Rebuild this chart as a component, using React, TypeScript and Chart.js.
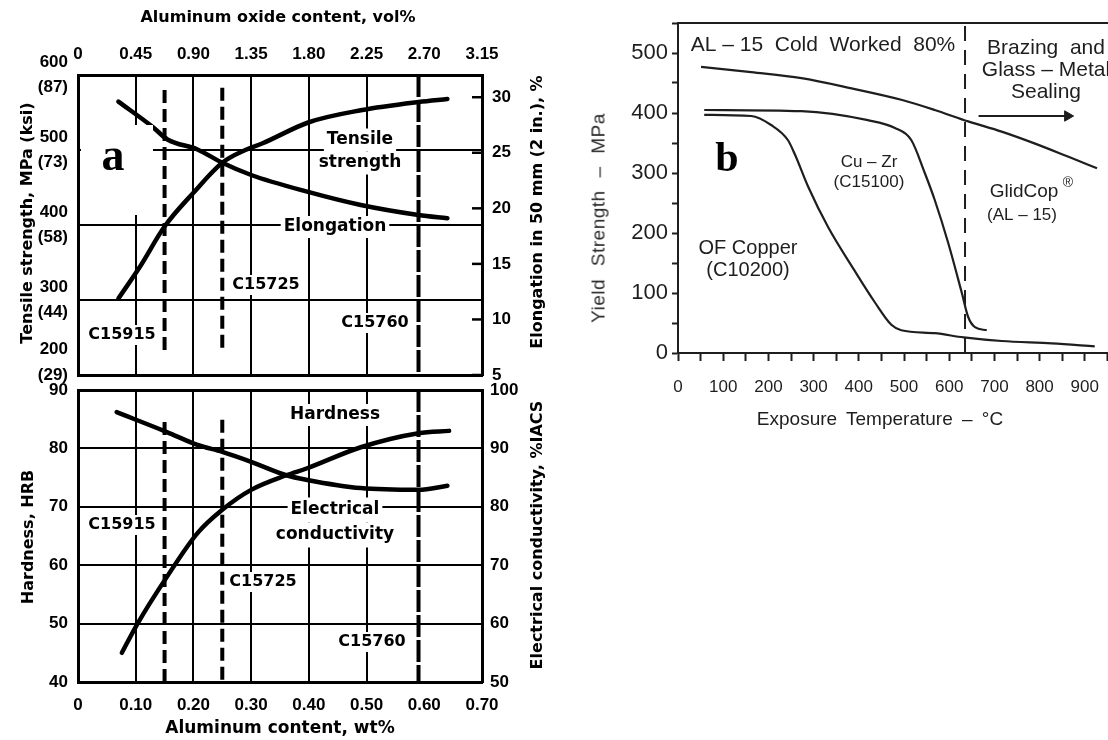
import React, { useEffect, useRef } from 'react';
import { Chart, registerables } from 'chart.js';

Chart.register(...registerables);

// ===== Panel a (upper): tensile strength (MPa) and elongation (%) vs Al content (wt%) =====
const wtTensile = [0.07, 0.107, 0.15, 0.2, 0.25, 0.29, 0.32, 0.4, 0.49, 0.59, 0.64];
const tensileMPa = [302, 344, 398, 443, 483, 500, 509, 537, 553, 564, 568];
const wtElong = [0.07, 0.13, 0.155, 0.207, 0.25, 0.3, 0.397, 0.49, 0.59, 0.64];
const elongPct = [29.6, 27.3, 26.2, 25.3, 24.1, 23.0, 21.5, 20.3, 19.4, 19.1];

// ===== Panel a (lower): hardness (HRB) and electrical conductivity (%IACS) =====
const wtHard = [0.067, 0.154, 0.207, 0.25, 0.3, 0.361, 0.397, 0.49, 0.59, 0.64];
const hardHRB = [86.2, 82.8, 80.6, 79.4, 77.7, 75.4, 74.6, 73.2, 72.9, 73.6];
const wtCond = [0.076, 0.102, 0.154, 0.207, 0.25, 0.3, 0.361, 0.397, 0.49, 0.59, 0.643];
const condIACS = [55.0, 59.8, 68.0, 75.5, 79.5, 82.9, 85.4, 86.6, 90.2, 92.6, 93.0];

// ===== Alloy markers (dashed verticals) =====
const alloyNames = ['C15915', 'C15725', 'C15760'];
const alloyWt = [0.15, 0.25, 0.59];
const alloyTopMPa = [580, 583, 600];
const alloyBottomMPa = [233, 233, 200];
const alloyTopHRB = [84.5, 84.9, 90];
const alloyBottomHRB = [40, 40, 40];

// ===== Tick labels, panel a =====
const wtTicks = [0, 0.1, 0.2, 0.3, 0.4, 0.5, 0.6, 0.7];
const volTicks = [0, 0.45, 0.9, 1.35, 1.8, 2.25, 2.7, 3.15];
const mpaTicks = [200, 300, 400, 500, 600];
const ksiTicks = [29, 44, 58, 73, 87];
const elongTicks = [5, 10, 15, 20, 25, 30];
const hrbTicks = [40, 50, 60, 70, 80, 90];
const iacsTicks = [50, 60, 70, 80, 90, 100];

// ===== Panel b: yield strength (MPa) vs exposure temperature (°C) =====
const tempGlid = [51, 162, 273, 384, 494, 568, 642, 716, 790, 864, 927];
const ysGlid = [477, 468, 458, 441, 422, 405, 386, 369, 349, 327, 308];
const tempCuZr = [58, 273, 420, 480, 516, 546, 568, 598, 628, 642, 657, 683];
const ysCuZr = [405, 403, 388, 375, 355, 300, 255, 183, 100, 60, 43, 38];
const tempOF = [58, 162, 206, 243, 258, 288, 332, 390, 435, 472, 494, 568, 632, 716, 827, 922];
const ysOF = [397, 395, 380, 355, 332, 277, 210, 138, 85, 47, 38, 33, 26, 20, 16, 11];
const brazingLimitC = [635, 635];
const brazingLimitMPa = [0, 550];
const arrowC = [665, 862];
const arrowMPa = [395, 395];
const tempTicks = [0, 50, 100, 150, 200, 250, 300, 350, 400, 450, 500, 550, 600, 650, 700, 750, 800, 850, 900, 950];
const ysTicks = [0, 50, 100, 150, 200, 250, 300, 350, 400, 450, 500, 550];

const NARROW = '"Liberation Sans Narrow", "Liberation Sans", Arial, sans-serif';
const SANS = '"Liberation Sans", Arial, Helvetica, sans-serif';
const HEAVY = '"DejaVu Sans", "Liberation Sans", sans-serif';
const SERIF = '"Liberation Serif", "Times New Roman", serif';

const near = (a: number, b: number) => Math.abs(a - b) < 1e-6;
const pts = (xs: number[], ys: number[]) => xs.map((x, i) => ({ x, y: ys[i] }));
const fixTicks = (vals: number[]) => (s: any) => {
  s.ticks = vals.map((v) => ({ value: v }));
};
const fmt2 = (v: any) => (Number(v) === 0 ? '0' : Number(v).toFixed(2));
// force exact box sizes and drop label overflow padding so the plot areas land where intended
const fitW = (w: number) => (s: any) => {
  s.width = w;
  s.paddingTop = 0; s.paddingBottom = 0; s.paddingLeft = 0; s.paddingRight = 0;
};
const fitH = (h: number) => (s: any) => {
  s.height = h;
  s.paddingTop = 0; s.paddingBottom = 0; s.paddingLeft = 0; s.paddingRight = 0;
};

type Note = { lines: string[]; x: number; y: number; font: string; lh?: number; box?: boolean; color?: string };
type Cover = { x: number; y: number; w: number; h: number };

function notesPlugin(id: string, notes: Note[], ox: number, oy: number, covers: Cover[] = []) {
  const lineY = (n: Note, i: number) => n.y - oy + (i - (n.lines.length - 1) / 2) * (n.lh || 20);
  return {
    id,
    beforeDatasetsDraw(chart: any) {
      const ctx = chart.ctx as CanvasRenderingContext2D;
      ctx.save();
      ctx.fillStyle = '#fff';
      for (const n of notes) {
        if (!n.box) continue;
        ctx.font = n.font;
        n.lines.forEach((t, i) => {
          const w = ctx.measureText(t).width;
          const lh = n.lh || 20;
          ctx.fillRect(n.x - ox - w / 2 - 3, lineY(n, i) - lh / 2, w + 6, lh);
        });
      }
      ctx.restore();
    },
    afterDatasetsDraw(chart: any) {
      const ctx = chart.ctx as CanvasRenderingContext2D;
      ctx.save();
      ctx.fillStyle = '#fff';
      covers.forEach((c) => ctx.fillRect(c.x - ox, c.y - oy, c.w, c.h));
      ctx.textAlign = 'center';
      ctx.textBaseline = 'middle';
      for (const n of notes) {
        ctx.font = n.font;
        ctx.fillStyle = n.color || '#000';
        n.lines.forEach((t, i) => ctx.fillText(t, n.x - ox, lineY(n, i)));
      }
      ctx.restore();
    },
  };
}

const inwardTicks = {
  id: 'inwardTicks',
  afterDraw(chart: any) {
    const s = chart.scales.yR;
    const { right } = chart.chartArea;
    const ctx = chart.ctx as CanvasRenderingContext2D;
    ctx.save();
    ctx.strokeStyle = '#000';
    ctx.lineWidth = 2.5;
    elongTicks.forEach((v) => {
      const y = s.getPixelForValue(v);
      ctx.beginPath();
      ctx.moveTo(right - 10, y);
      ctx.lineTo(right, y);
      ctx.stroke();
    });
    ctx.restore();
  },
};

const tickFont = { family: NARROW, size: 17, weight: 'bold' as const };
const noteFont = `bold 17px ${HEAVY}`;
const codeFont = `bold 16px ${HEAVY}`;
const gridX = (ctx: any) => {
  const v = ctx.tick ? ctx.tick.value : null;
  return v == null || near(v, 0) || near(v, 0.6) || near(v, 0.7) ? 'rgba(0,0,0,0)' : '#000';
};
const gridY = (lo: number, hi: number) => (ctx: any) => {
  const v = ctx.tick ? ctx.tick.value : null;
  return v == null || near(v, lo) || near(v, hi) ? 'rgba(0,0,0,0)' : '#000';
};

const curve = (data: any[], yAxisID: string) => ({
  data,
  xAxisID: 'x',
  yAxisID,
  borderColor: '#000',
  borderWidth: 4.5,
  pointRadius: 0,
  borderCapStyle: 'round',
  cubicInterpolationMode: 'monotone',
});
const alloyLine = (i: number, tops: number[], bottoms: number[]) => ({
  data: [
    { x: alloyWt[i], y: tops[i] },
    { x: alloyWt[i], y: bottoms[i] },
  ],
  xAxisID: 'x',
  yAxisID: 'y',
  borderColor: '#000',
  borderWidth: 4,
  borderDash: i === 2 ? [22, 3] : [13, 6],
  pointRadius: 0,
});

const baseOpts = {
  responsive: false,
  animation: false,
  devicePixelRatio: 1,
  layout: { padding: 0, autoPadding: false },
  plugins: { legend: { display: false }, tooltip: { enabled: false } },
};

const notesA1: Note[] = [
  { lines: ['Tensile', 'strength'], x: 360, y: 151.5, lh: 23, font: noteFont, box: true },
  { lines: ['Elongation'], x: 335, y: 227, lh: 22, font: noteFont, box: true },
  { lines: [alloyNames[1]], x: 266, y: 285, lh: 20, font: codeFont, box: true },
  { lines: [alloyNames[2]], x: 375, y: 323, lh: 20, font: codeFont, box: true },
  { lines: [alloyNames[0]], x: 122, y: 335, lh: 20, font: codeFont, box: true },
  { lines: ['a'], x: 113, y: 158, font: `bold 46px ${SERIF}` },
];
const notesA2: Note[] = [
  { lines: ['Hardness'], x: 335, y: 415, lh: 22, font: noteFont, box: true },
  { lines: ['Electrical', 'conductivity'], x: 335, y: 522.5, lh: 25, font: noteFont, box: true },
  { lines: [alloyNames[0]], x: 122, y: 525, lh: 20, font: codeFont, box: true },
  { lines: [alloyNames[1]], x: 263, y: 582, lh: 20, font: codeFont, box: true },
  { lines: [alloyNames[2]], x: 372, y: 642, lh: 20, font: codeFont, box: true },
];
const INK = '#1e1e1e';
const notesB: Note[] = [
  { lines: ['AL – 15  Cold  Worked  80%'], x: 823, y: 45, font: `21px ${SANS}`, color: INK },
  { lines: ['Brazing  and', 'Glass – Metal', 'Sealing'], x: 1046, y: 70, lh: 22, font: `21px ${SANS}`, color: INK },
  { lines: ['Cu – Zr', '(C15100)'], x: 869, y: 172, lh: 20, font: `17px ${SANS}`, color: INK },
  { lines: ['OF Copper', '(C10200)'], x: 748, y: 259, lh: 22, font: `20px ${SANS}`, color: INK },
  { lines: ['GlidCop'], x: 1024, y: 192, font: `19px ${SANS}`, color: INK },
  { lines: ['®'], x: 1068, y: 183, font: `14px ${SANS}`, color: INK },
  { lines: ['(AL – 15)'], x: 1022, y: 215, font: `17px ${SANS}`, color: INK },
  { lines: ['b'], x: 727, y: 160, font: `bold 42px ${SERIF}`, color: '#000' },
];

type Title = { t: string; x: number; y: number; size: number; rot?: boolean; heavy?: boolean; color?: string; ws?: number; ls?: number };
const titles: Title[] = [
  { t: 'Aluminum oxide content, vol%', x: 278, y: 17, size: 16, heavy: true },
  { t: 'Tensile strength, MPa (ksi)', x: 27, y: 223, size: 16, rot: true, heavy: true },
  { t: 'Elongation in 50 mm (2 in.), %', x: 537, y: 212, size: 16, rot: true, heavy: true },
  { t: 'Hardness, HRB', x: 28, y: 537, size: 16, rot: true, heavy: true },
  { t: 'Electrical conductivity, %IACS', x: 537, y: 535, size: 16, rot: true, heavy: true },
  { t: 'Aluminum content, wt%', x: 280, y: 727, size: 17, heavy: true },
  { t: 'Yield Strength – MPa', x: 598, y: 218, size: 19, rot: true, color: '#2a2a2a', ws: 7, ls: 0.5 },
  { t: 'Exposure Temperature – °C', x: 880, y: 418, size: 19, color: INK, ws: 4 },
];

export default function App() {
  const refA1 = useRef<HTMLCanvasElement>(null);
  const refA2 = useRef<HTMLCanvasElement>(null);
  const refB = useRef<HTMLCanvasElement>(null);

  useEffect(() => {
    const charts: Chart[] = [];

    // ---------- Panel a, upper ----------
    charts.push(
      new Chart(refA1.current as HTMLCanvasElement, {
        type: 'line',
        data: {
          datasets: [
            curve(pts(wtTensile, tensileMPa), 'y'),
            curve(pts(wtElong, elongPct), 'yR'),
            alloyLine(0, alloyTopMPa, alloyBottomMPa),
            alloyLine(1, alloyTopMPa, alloyBottomMPa),
            alloyLine(2, alloyTopMPa, alloyBottomMPa),
          ] as any,
        },
        options: {
          ...baseOpts,
          scales: {
            x: {
              type: 'linear', position: 'bottom', min: 0, max: 0.7,
              afterBuildTicks: fixTicks(wtTicks),
              ticks: { display: false },
              grid: { color: gridX, lineWidth: 2, drawTicks: false },
              border: { display: true, color: '#000', width: 3 },
              afterFit: fitH(30),
            },
            xTop: {
              type: 'linear', position: 'top', min: 0, max: 3.15,
              afterBuildTicks: fixTicks(volTicks),
              ticks: { font: tickFont, color: '#000', padding: 10, maxRotation: 0, autoSkip: false, callback: fmt2 },
              grid: { display: false, drawTicks: false },
              border: { display: true, color: '#000', width: 3 },
              afterFit: fitH(75),
            },
            y: {
              type: 'linear', position: 'left', min: 200, max: 600,
              afterBuildTicks: fixTicks(mpaTicks),
              ticks: {
                font: { ...tickFont, lineHeight: 1.5 }, color: '#000', padding: 10, autoSkip: false,
                callback: (v: any) => {
                  const i = mpaTicks.indexOf(Number(v));
                  const lbl = [String(v), `(${ksiTicks[i]})`];
                  return i === 0 ? [...lbl, ''] : lbl;
                },
              },
              grid: { color: gridY(200, 600), lineWidth: 2, drawTicks: false },
              border: { display: true, color: '#000', width: 3 },
              afterFit: fitW(78),
            },
            yR: {
              type: 'linear', position: 'right', min: 5, max: 32,
              afterBuildTicks: fixTicks(elongTicks),
              ticks: { font: tickFont, color: '#000', padding: 10, autoSkip: false },
              grid: { display: false, drawTicks: false },
              border: { display: true, color: '#000', width: 3 },
              afterFit: fitW(78),
            },
          } as any,
        } as any,
        plugins: [notesPlugin('notesA1', notesA1, 0, 0, [{ x: 81, y: 125, w: 72, h: 90 }]), inwardTicks],
      })
    );

    // ---------- Panel a, lower ----------
    charts.push(
      new Chart(refA2.current as HTMLCanvasElement, {
        type: 'line',
        data: {
          datasets: [
            curve(pts(wtHard, hardHRB), 'y'),
            curve(pts(wtCond, condIACS), 'yR'),
            alloyLine(0, alloyTopHRB, alloyBottomHRB),
            alloyLine(1, alloyTopHRB, alloyBottomHRB),
            alloyLine(2, alloyTopHRB, alloyBottomHRB),
          ] as any,
        },
        options: {
          ...baseOpts,
          scales: {
            x: {
              type: 'linear', position: 'bottom', min: 0, max: 0.7,
              afterBuildTicks: fixTicks(wtTicks),
              ticks: { font: tickFont, color: '#000', padding: 13, maxRotation: 0, autoSkip: false, callback: fmt2 },
              grid: { color: gridX, lineWidth: 2, drawTicks: false },
              border: { display: true, color: '#000', width: 3 },
              afterFit: fitH(58),
            },
            xTop: {
              type: 'linear', position: 'top', min: 0, max: 0.7,
              ticks: { display: false },
              grid: { display: false, drawTicks: false },
              border: { display: true, color: '#000', width: 3 },
              afterFit: fitH(10),
            },
            y: {
              type: 'linear', position: 'left', min: 40, max: 90,
              afterBuildTicks: fixTicks(hrbTicks),
              ticks: { font: tickFont, color: '#000', padding: 10, autoSkip: false },
              grid: { color: gridY(40, 90), lineWidth: 2, drawTicks: false },
              border: { display: true, color: '#000', width: 3 },
              afterFit: fitW(78),
            },
            yR: {
              type: 'linear', position: 'right', min: 50, max: 100,
              afterBuildTicks: fixTicks(iacsTicks),
              ticks: { font: tickFont, color: '#000', padding: 8, autoSkip: false },
              grid: { display: false, drawTicks: false },
              border: { display: true, color: '#000', width: 3 },
              afterFit: fitW(78),
            },
          } as any,
        } as any,
        plugins: [notesPlugin('notesA2', notesA2, 0, 380)],
      })
    );

    // ---------- Panel b ----------
    const thin = (data: any[], extra: any = {}) => ({
      data, xAxisID: 'x', yAxisID: 'y', borderColor: INK, borderWidth: 2.2, pointRadius: 0,
      cubicInterpolationMode: 'monotone', ...extra,
    });
    charts.push(
      new Chart(refB.current as HTMLCanvasElement, {
        type: 'line',
        data: {
          datasets: [
            thin(pts(tempGlid, ysGlid)),
            thin(pts(tempCuZr, ysCuZr)),
            thin(pts(tempOF, ysOF)),
            thin(pts(brazingLimitC, brazingLimitMPa), { borderDash: [15, 9], cubicInterpolationMode: 'default', borderWidth: 2 }),
            thin(pts(arrowC, arrowMPa), {
              cubicInterpolationMode: 'default', borderWidth: 2,
              pointRadius: [0, 6], pointStyle: 'triangle', rotation: 90,
              pointBackgroundColor: INK, pointBorderColor: INK, pointBorderWidth: 1,
            }),
          ] as any,
        },
        options: {
          ...baseOpts,
          layout: { padding: { left: 0, right: 30, top: 0, bottom: 0 }, autoPadding: false },
          scales: {
            x: {
              type: 'linear', position: 'bottom', min: 0, max: 1000,
              afterBuildTicks: fixTicks(tempTicks),
              ticks: {
                font: { family: SANS, size: 17 }, color: INK, padding: 16, maxRotation: 0, autoSkip: false,
                callback: (v: any) => (Number(v) % 100 === 0 ? String(v) : ''),
              },
              grid: { drawOnChartArea: false, drawTicks: true, tickLength: 8, tickColor: INK, tickWidth: 2, color: INK },
              border: { display: true, color: INK, width: 2 },
              afterFit: fitH(87),
            },
            xTop: {
              type: 'linear', position: 'top', min: 0, max: 1000,
              ticks: { display: false },
              grid: { display: false, drawTicks: false },
              border: { display: true, color: INK, width: 2 },
              afterFit: fitH(23),
            },
            y: {
              type: 'linear', position: 'left', min: 0, max: 550,
              afterBuildTicks: fixTicks(ysTicks),
              ticks: {
                font: { family: SANS, size: 22 }, color: INK, padding: 4, autoSkip: false,
                callback: (v: any) => (Number(v) % 100 === 0 ? String(v) : ''),
              },
              grid: { drawOnChartArea: false, drawTicks: true, tickLength: 6, tickColor: INK, tickWidth: 2, color: INK },
              border: { display: true, color: INK, width: 2 },
              afterFit: fitW(78),
            },
          } as any,
        } as any,
        plugins: [notesPlugin('notesB', notesB, 600, 0)],
      })
    );

    return () => charts.forEach((c) => c.destroy());
  }, []);

  return (
    <div style={{ position: 'fixed', left: 0, top: 0, width: 1108, height: 740, overflow: 'hidden', background: '#fff' }}>
      <canvas ref={refA1} width={560} height={405} style={{ position: 'absolute', left: 0, top: 0 }} />
      <canvas ref={refA2} width={560} height={360} style={{ position: 'absolute', left: 0, top: 380 }} />
      <canvas ref={refB} width={560} height={440} style={{ position: 'absolute', left: 600, top: 0 }} />
      {titles.map((t) => (
        <div
          key={t.t}
          style={{
            position: 'absolute',
            left: t.x,
            top: t.y,
            transform: `translate(-50%, -50%)${t.rot ? ' rotate(-90deg)' : ''}`,
            whiteSpace: 'nowrap',
            fontFamily: t.heavy ? HEAVY : SANS,
            fontWeight: t.heavy ? 'bold' : 'normal',
            fontSize: t.size,
            color: t.color || '#000',
            wordSpacing: t.ws ? `${t.ws}px` : undefined,
            letterSpacing: t.ls ? `${t.ls}px` : undefined,
            lineHeight: 1,
          }}
        >
          {t.t}
        </div>
      ))}
    </div>
  );
}
